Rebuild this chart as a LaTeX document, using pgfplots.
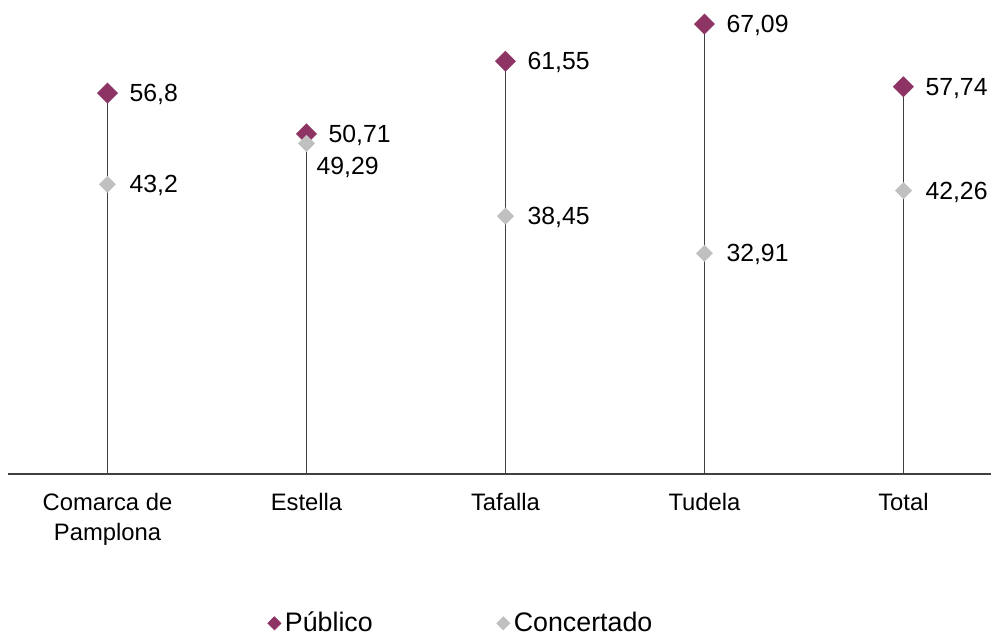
\documentclass[border=0pt]{standalone}
\usepackage{pgfplots}
\pgfplotsset{compat=1.18}
\usepackage{pgfplotstable}
\usepackage{fontspec}
\setmainfont{Liberation Sans}
\definecolor{pub}{RGB}{142,52,100}
\definecolor{con}{RGB}{192,192,192}
\definecolor{stem}{RGB}{64,64,64}
\pgfplotstableread{
x pub publab con conlab
0 56.80 56,8  43.20 43,2
1 50.71 50,71 49.29 49,29
2 61.55 61,55 38.45 38,45
3 67.09 67,09 32.91 32,91
4 57.74 57,74 42.26 42,26
}\data
\begin{document}
\begin{tikzpicture}[x=0.5pt,y=0.5pt]
\begin{axis}[
  at={(0,0)}, anchor=south west,
  scale only axis, width=491.5pt, height=234.75pt,
  xmin=-0.5, xmax=4.44, ymin=0, ymax=70,
  axis y line=none,
  axis x line*=bottom,
  x axis line style={stem, line width=0.6pt, -},
  xtick={0,1,2,3,4},
  xticklabels={{Comarca de\\Pamplona},Estella,Tafalla,Tudela,Total},
  xticklabel style={align=center, font=\fontsize{11.9}{15}\selectfont, text=black, yshift=-6pt},
  major tick length=0pt,
  clip=false,
  legend style={at={(0.462,-0.318)}, anchor=center, draw=none, fill=none,
    legend columns=2, font=\fontsize{13.4}{14}\selectfont,
    /tikz/every even column/.append style={column sep=60pt},
    inner sep=0pt},
  legend image code/.code={\draw[#1, mark size=2.3pt] plot coordinates {(0.3em,0pt)};},
  nodes near coords style={font=\fontsize{12.4}{13}\selectfont, text=black},
]
\addplot[ycomb, stem, line width=0.6pt, no markers, forget plot] table[x=x,y=pub] {\data};
\addplot[only marks, mark=square*, mark size=3.5pt, mark options={rotate=45, fill=pub, draw=pub},
  point meta=explicit symbolic, nodes near coords,
  nodes near coords style={anchor=west, xshift=7.5pt, yshift=-0.8pt}]
  table[x=x,y=pub,meta=publab] {\data};
\addlegendentry{P\'ublico}
\addplot[only marks, mark=square*, mark size=2.8pt, mark options={rotate=45, fill=con, draw=con},
  point meta=explicit symbolic, nodes near coords,
  nodes near coords style={anchor=west, xshift=7.5pt, yshift=-0.8pt}]
  table[x=x,y=con,meta=conlab] {
x con conlab
0 43.20 43,2
2 38.45 38,45
3 32.91 32,91
4 42.26 42,26
};
\addlegendentry{Concertado}
\addplot[only marks, mark=square*, mark size=2.8pt, mark options={rotate=45, fill=con, draw=con},
  point meta=explicit symbolic, nodes near coords, forget plot,
  nodes near coords style={anchor=north west, xshift=1.5pt, yshift=-3.5pt}]
  table[x=x,y=con,meta=conlab] {
x con conlab
1 49.29 49,29
};
\end{axis}
\pgfresetboundingbox
\path[use as bounding box] (-8,-163) rectangle (983,474);
\end{tikzpicture}
\end{document}
